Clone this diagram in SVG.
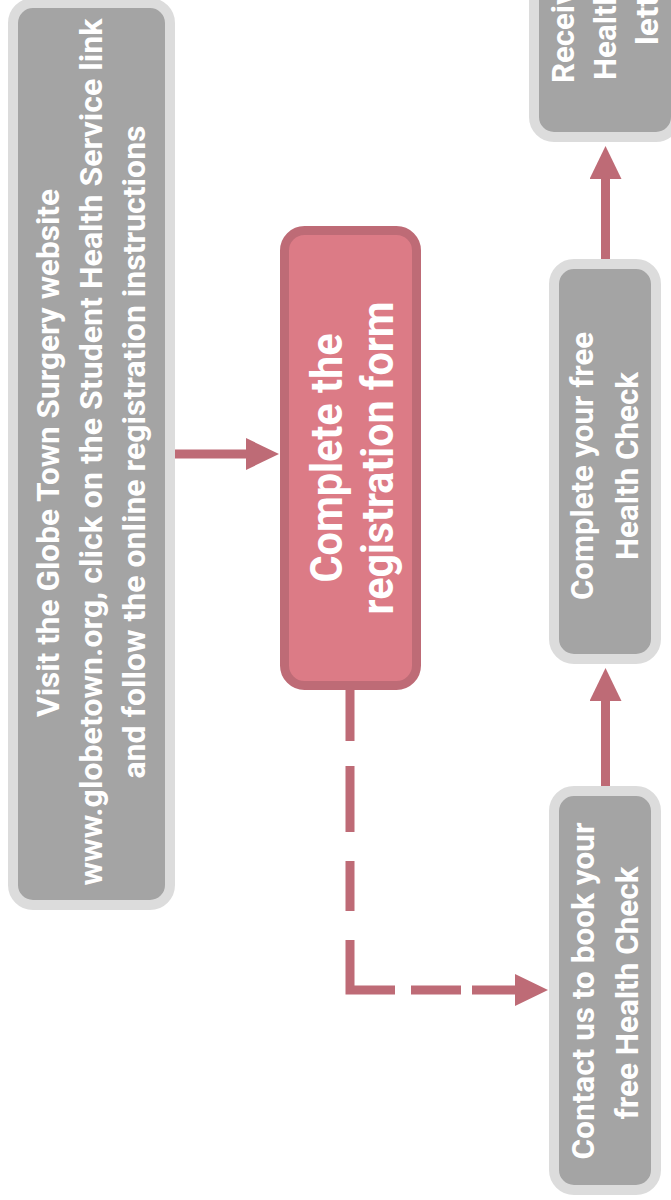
<svg xmlns="http://www.w3.org/2000/svg" width="671" height="1200" viewBox="0 0 671 1200">
  <style>
    .grey { fill: #a4a4a4; stroke: #dcdcdc; stroke-width: 10; }
    .pink { fill: #dc7b86; stroke: #be6b76; stroke-width: 9; }
    .t { font-family: Roboto, "Liberation Sans", sans-serif; font-weight: 700; fill: #ffffff; text-anchor: middle; }
    .s { font-size: 32px; }
    .b { font-size: 45px; }
    .conn { fill: none; stroke: #be6b76; stroke-width: 9; stroke-linecap: butt; stroke-linejoin: miter; }
  </style>
  <defs>
    <marker id="ah" markerUnits="userSpaceOnUse" markerWidth="34" markerHeight="34" refX="2" refY="16" orient="auto">
      <path d="M0,0 L33,16 L0,32 Z" fill="#be6b76"/>
    </marker>
  </defs>
  <rect width="671" height="1200" fill="#ffffff"/>

  <g id="connectors">
    <line class="conn" x1="175" y1="454" x2="248" y2="454" marker-end="url(#ah)"/>
    <path class="conn" d="M350,690 V990 H517" stroke-dasharray="51 25 66 29 50 29 95 16 50 11 200" marker-end="url(#ah)"/>
    <line class="conn" x1="605.5" y1="786" x2="605.5" y2="699" marker-end="url(#ah)"/>
    <line class="conn" x1="605.5" y1="259" x2="605.5" y2="177" marker-end="url(#ah)"/>
  </g>

  <g id="node-visit">
    <rect class="grey" x="13" y="3" width="157" height="902" rx="20"/>
    <text class="t s" transform="translate(59,453) rotate(-90)" textLength="528" lengthAdjust="spacingAndGlyphs">Visit the Globe Town Surgery website</text>
    <text class="t s" transform="translate(102,452) rotate(-90)" textLength="867" lengthAdjust="spacingAndGlyphs">www.globetown.org, click on the Student Health Service link</text>
    <text class="t s" transform="translate(145,452) rotate(-90)" textLength="653" lengthAdjust="spacingAndGlyphs">and follow the online registration instructions</text>
  </g>

  <g id="node-register">
    <rect class="pink" x="284.5" y="230.5" width="132" height="455" rx="20"/>
    <text class="t b" transform="translate(342,458) rotate(-90)" textLength="249" lengthAdjust="spacingAndGlyphs">Complete the</text>
    <text class="t b" transform="translate(393,458) rotate(-90)" textLength="313" lengthAdjust="spacingAndGlyphs">registration form</text>
  </g>

  <g id="node-contact">
    <rect class="grey" x="554" y="791" width="102" height="399" rx="20"/>
    <text class="t s" transform="translate(594,991) rotate(-90)" textLength="337" lengthAdjust="spacingAndGlyphs">Contact us to book your</text>
    <text class="t s" transform="translate(638,993) rotate(-90)" textLength="253" lengthAdjust="spacingAndGlyphs">free Health Check</text>
  </g>

  <g id="node-complete">
    <rect class="grey" x="554" y="264" width="102" height="395" rx="20"/>
    <text class="t s" transform="translate(593,466) rotate(-90)" textLength="268" lengthAdjust="spacingAndGlyphs">Complete your free</text>
    <text class="t s" transform="translate(638,466) rotate(-90)" textLength="188" lengthAdjust="spacingAndGlyphs">Health Check</text>
  </g>

  <g id="node-receive">
    <rect class="grey" x="534" y="-170" width="142" height="307" rx="20"/>
    <text class="t s" transform="translate(574,83) rotate(-90)" style="text-anchor:start" textLength="180" lengthAdjust="spacingAndGlyphs">Receive your</text>
    <text class="t s" transform="translate(616,80) rotate(-90)" style="text-anchor:start" textLength="188" lengthAdjust="spacingAndGlyphs">Health Check</text>
    <text class="t s" transform="translate(658,45) rotate(-90)" style="text-anchor:start" textLength="80" lengthAdjust="spacingAndGlyphs">letter</text>
  </g>
</svg>
